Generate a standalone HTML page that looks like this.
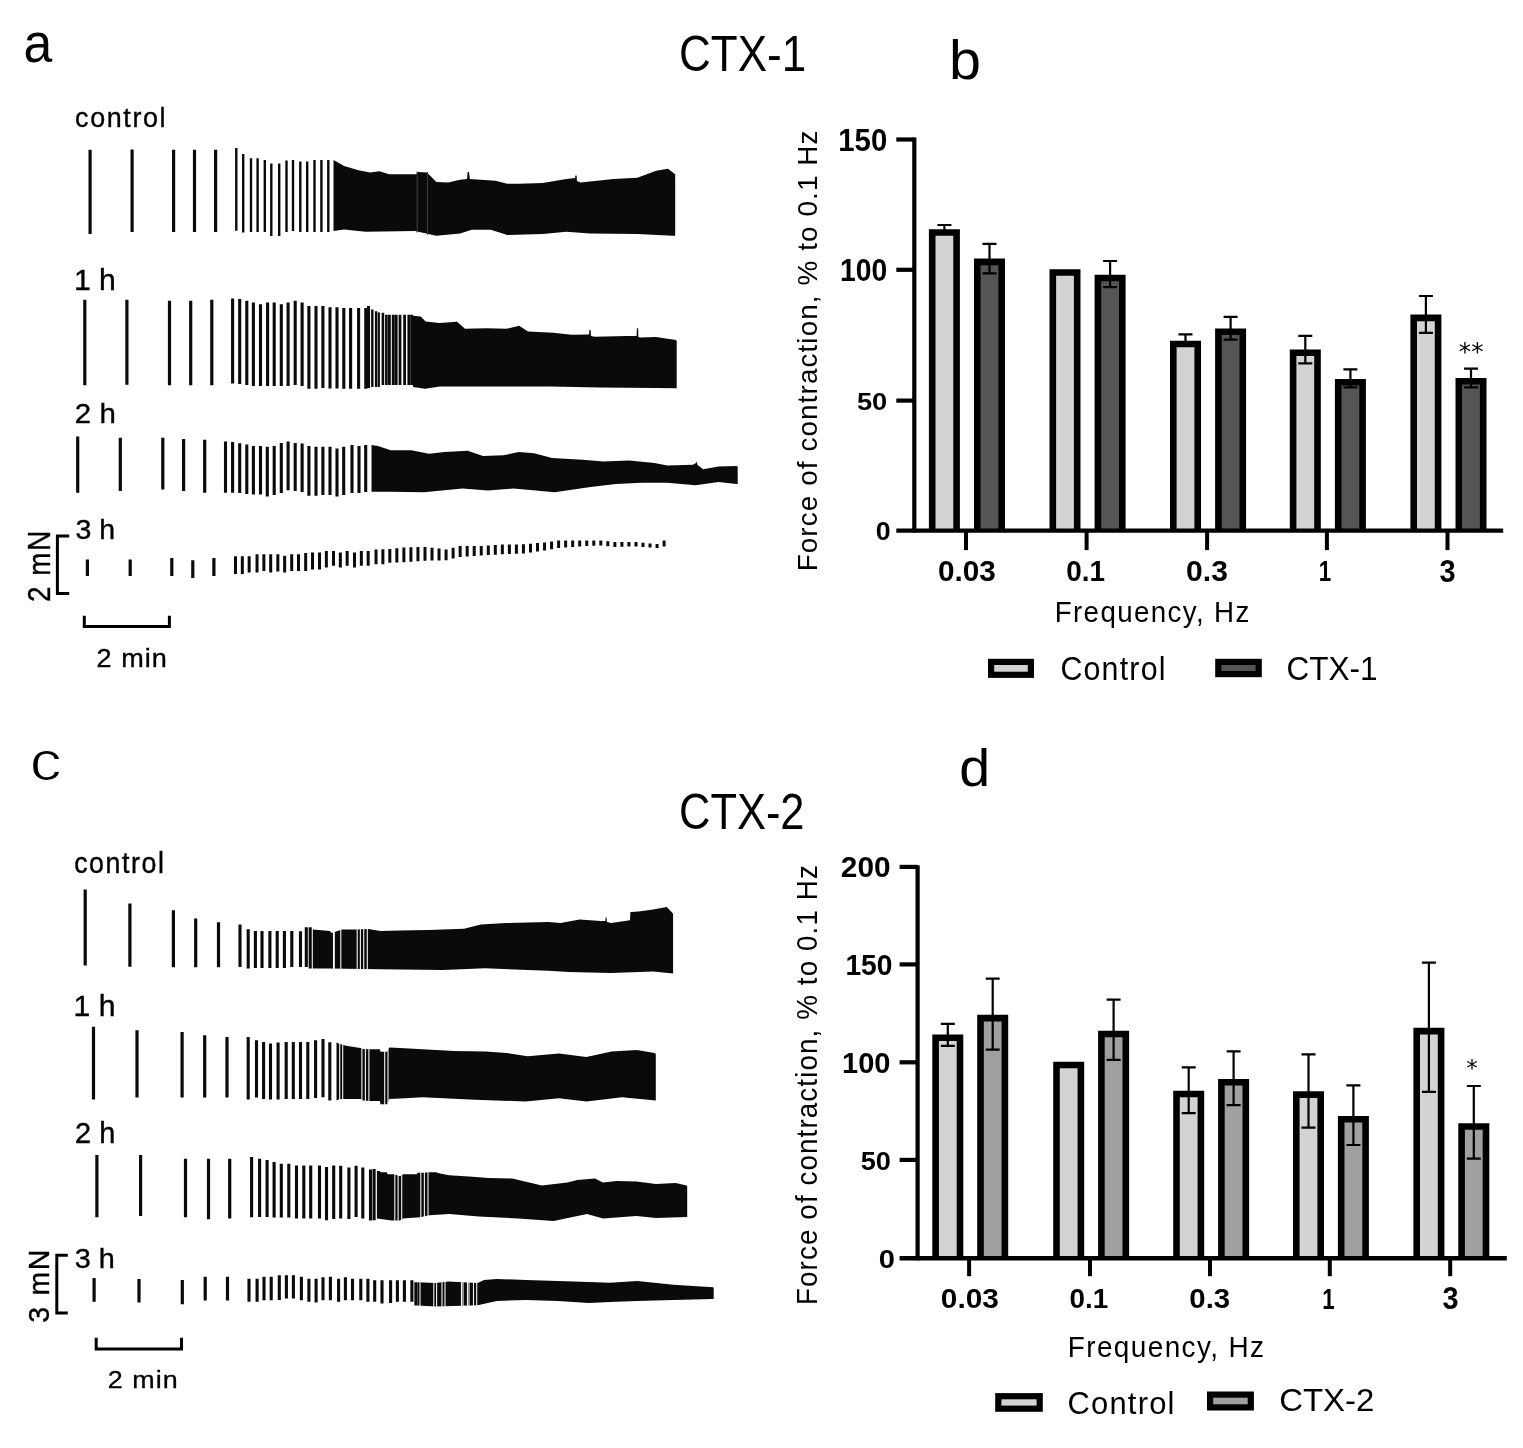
<!DOCTYPE html>
<html><head><meta charset="utf-8"><title>Figure</title>
<style>html,body{margin:0;padding:0;background:#fff;}svg{display:block;}</style></head>
<body><svg width="1523" height="1448" viewBox="0 0 1523 1448">
<rect width="1523" height="1448" fill="#fff"/>
<path d="M90.1 149.7V234M132.1 149.5V232M173.6 149.7V232M194.5 149.7V232M215.6 149.7V232" stroke="#0a0a0a" stroke-width="3.2" fill="none"/>
<path d="M236.3 148.1V230.8M243.2 154V232.4M251 158.2V232M257.6 158.2V232M264.8 160V232M271.3 163.5V236M279.2 163.5V236M286.5 160.5V232M293 160V231M300.3 161.5V232M307.2 161.5V232M314.5 160V232M321.4 160V232M328.3 160V232" stroke="#0a0a0a" stroke-width="2.4" fill="none"/>
<path d="M333.5 160 L344.2 166 L358.4 170.3 L370.2 172.6 L379.6 171.2 L389 174.3 L416.3 174.3 L417.5 172 L427 172.6 L436.4 182 L448.2 182.6 L460 179.7 L467 179 L467.6 172 L469 172 L469.8 179 L495.5 180.7 L507.3 183.7 L519 183.7 L542.8 183 L566.4 179 L575 178 L575.4 175.5 L576.6 175.5 L577 181 L580.6 182.6 L613.7 179 L637.3 177.8 L656.2 170.7 L668 168.8 L675.2 174.3 L675.2 235.7 L672.8 235.7 L637.3 234 L590 233.4 L566.4 231.7 L542.8 234 L507.3 235 L490.8 229.8 L471.8 229.8 L460 233.4 L436.4 235.7 L415 231 L365.5 231.7 L344.2 229.4 L333.5 231Z" fill="#0a0a0a"/>
<path d="M417.2 171.58V232.48M427.5 172.1V234.75" stroke="#3c3c3c" stroke-width="1.1" fill="none"/>
<path d="M84.8 299.7V385.3M126.9 299.7V384.8M169.5 300.7V385.3M190.7 300.7V385.3M211.8 299.7V385.3" stroke="#0a0a0a" stroke-width="3.2" fill="none"/>
<path d="M232.6 298.5V383.4M239.7 299V384M246.8 300.7V385M253.4 302.5V386M260.5 304.2V386M267.6 302.5V386M274.2 302.5V386M281.3 304.2V386M288.1 302.5V386M295.2 300.7V385M302.1 302.5V386M308.9 306V388.8M316 306V388.8M322.9 306V388M330 307.3V388.5M337 307.3V388.5M343.8 307.9V388.8M350.6 307.9V388.8M358.6 307.9V388.8M365.8 308V388.8M368.5 306V388" stroke="#0a0a0a" stroke-width="3.1" fill="none"/>
<path d="M372.3 309.4V386.9M376.1 311.3V386.9" stroke="#0a0a0a" stroke-width="2.4" fill="none"/>
<path d="M378.8 312.4V386.9" stroke="#0a0a0a" stroke-width="2.2" fill="none"/>
<path d="M382.9 312.8V385M386.4 314.7V385" stroke="#0a0a0a" stroke-width="2.6" fill="none"/>
<path d="M389.4 314.7V385M393.2 314.7V385M396.2 314.7V385M400 314.7V385M404.6 314.7V385M408.8 314.7V385M411.8 314.7V385" stroke="#0a0a0a" stroke-width="2.8" fill="none"/>
<path d="M413 315.8 L420.7 316.4 L425.6 321.4 L439.4 323 L457.1 321.8 L465 328.8 L486.7 328.3 L506.4 328.8 L519.2 325.7 L528 331.6 L553.6 332.8 L571.4 334.8 L589 334.5 L589.4 330 L590.6 330 L591 336 L595 336.7 L626.5 336.1 L636.6 336 L636.9 328.3 L638.1 328.3 L638.4 337 L640.3 337.5 L656 337 L675.8 340 L676.7 341 L676.7 388.3 L656 388 L600 387.5 L550 386.5 L500 386.5 L440 386.5 L425 388.8 L413 386.9Z" fill="#0a0a0a"/>
<path d="M77.7 436.6V492.7M120.3 437.8V491M162.8 437.8V489.4M183.6 439V491M204.7 439.7V492.7" stroke="#0a0a0a" stroke-width="3.2" fill="none"/>
<path d="M225.5 441.4V492.7M232.6 442V492.7M239.7 443.3V493M246.8 444.4V494M253.4 446.1V494.6M260.5 446.1V494.6M267.3 446.8V496.5M274.2 446.1V495M281.3 443V493M288.1 441.4V490.3M295.2 443V491M302.1 443.6V492M308.9 446.1V495.7M316 446.8V495.7M322.9 446.8V495M330 446.8V495M337 448.5V496.5M343.7 446.8V495M352 445V493M359 446.1V493M365.7 445V492" stroke="#0a0a0a" stroke-width="3.1" fill="none"/>
<path d="M371.5 445.1 L378 446 L390.7 450.2 L411.2 450.2 L429.1 453.8 L444.5 452 L467.6 450.7 L483 455.9 L503.4 455.3 L518.8 452 L534.1 453.3 L552 457.9 L582.8 459.7 L603.3 461.5 L628.9 460.5 L654.5 463 L667.3 465.6 L692.9 464.8 L696 463 L696.7 461.5 L697.5 465 L703.1 469.2 L718.5 466.6 L736.4 466.1 L737.7 466.5 L737.7 484 L736.4 484 L718.5 482 L695.5 485.3 L667.3 482.7 L641.7 482.7 L616 484 L590.5 487.1 L554.6 492.2 L513.6 488.6 L488 490.4 L462.4 488.6 L424 492.2 L390.7 491.7 L371.5 491.7Z" fill="#0a0a0a"/>
<path d="M369 444.1V492.7" stroke="#f4f4f4" stroke-width="1.1" fill="none"/>
<path d="M87.4 559.6V576.1M130.2 559.6V576.1M171.8 558V576.1M192.8 560.3V578M213.9 558V576.1" stroke="#0a0a0a" stroke-width="3.2" fill="none"/>
<path d="M235.5 556.3V574.1M242.33 556.3V574.1M249.16 556.3V572.6M257.04 554.2V572.6M263.87 554.2V571M270.69 554.2V572.6M277.84 554.2V571.5M284.66 555.8V572.6M291.7 554.2V571M298.53 554.2V571M305.67 553.1V571M312.5 552.6V569.4M319.54 552.6V569.4M326.37 551V567.5M333.51 551V565.7M340.34 552.6V567.5M347.16 551V565.7M354.52 552.6V567.5M361.34 551V565.7M368.17 551V565.7M376.05 549.5V564.2M382.88 549.2V564.2M389.82 548.92V562.74M396.85 548.26V562.52M403.89 547.57V562.32M410.92 547.31V561.8M417.95 547.11V561.25M424.99 546.9V560.7M432.02 547.76V560.57M439.05 548.62V560.44M446.08 549.47V560.3M453.12 547.71V558.61M460.15 546V556.96M467.18 546V556.5M474.21 546V556.04M481.25 545.98V555.58M488.28 545.45V555.12M495.31 544.92V554.66M502.35 544.4V554.2M509.38 544.4V553.99M516.41 544.4V553.78M523.44 544.33V553.5M530.48 543.7V552.52M537.51 543.07V551.54M544.54 542.44V550.56M551.58 541.48V549.35M558.61 540.5V548.12M565.64 540.4V547.53M572.67 540.4V547.01M579.71 540.4V546.49M586.74 540.4V546.12M593.77 540.4V545.74M600.8 540.49V545.49M607.84 541.28V546.23M614.87 542V546.89M621.9 542V546.75M628.94 542V546.61M635.97 542.12V546.59M643 542.75V547.06M650.03 543.38V547.53M657.07 543.97V547.99M664.1 540.4V546.5" stroke="#0a0a0a" stroke-width="3.0" fill="none"/>
<path d="M85.2 889.6V965.5M129.9 903.6V966.8M173.4 910.3V967.3M195.7 918.6V967.3M218.5 922.2V967.3" stroke="#0a0a0a" stroke-width="3.2" fill="none"/>
<path d="M240 924.4V967M248.2 929.3V968.4M255.4 931V968M262 931V968M269.9 931V968M277.2 931V968M284.4 931V968M291.8 931V967M300.5 931.3V967M306.3 927.3V967M310.2 927.3V968.5" stroke="#0a0a0a" stroke-width="3.1" fill="none"/>
<path d="M312.8 929.5 L330 931 L331.5 933 L342 929.5 L356 929.5 L368.4 929.1 L380.3 931 L400 930.4 L428.3 930 L464 928.7 L480.9 924.5 L506 923 L548.1 922 L560.7 923 L579.6 919.5 L600.6 921 L605.4 921 L605.6 917.5 L606.6 917.5 L607 922 L611.1 923 L630 920.3 L630.4 912 L631.5 912 L638.5 911.5 L653.2 909.4 L666.8 906.9 L672 912.6 L673.1 914 L673.1 973.5 L653 971.4 L611 972.9 L569 972 L548 970.8 L485 968.3 L443 970 L380 969.3 L330 968.5 L312.8 968.5Z" fill="#0a0a0a"/>
<path d="M333.5 931.33V969.56M334.3 931.07V969.57M340.8 928.9V969.67M357.2 928.46V969.94M360.4 928.36V969.99M363.7 928.25V970.04M367.3 928.14V970.1" stroke="#f4f4f4" stroke-width="1.1" fill="none"/>
<path d="M93.5 1026.8V1099.4M137 1030.2V1097.6M182.1 1032V1097.6M204.7 1035.3V1097.6M227 1036.9V1097.6" stroke="#0a0a0a" stroke-width="3.2" fill="none"/>
<path d="M248.2 1036.9V1099.4M256.5 1040.2V1097.6M263.6 1042V1099M270.5 1043.6V1099.4M278.1 1042.5V1099.4M286.2 1042V1099M293.3 1042V1099M300.5 1042V1099M307.8 1042V1099M315.6 1040.2V1098M323 1038.9V1097.3M329.8 1042.3V1100.6" stroke="#0a0a0a" stroke-width="3.1" fill="none"/>
<path d="M336.5 1042.5 L340 1044.1 L346 1045.8 L357 1047.4 L361 1048 L363 1049 L370 1049.2 L379.8 1049.2 L380.5 1051.7 L387 1051.7 L389.3 1047.6 L400 1047.9 L422.5 1049.3 L454 1051 L485.6 1051.4 L506.6 1053.1 L527.6 1056.3 L559 1053.5 L586.4 1056.9 L611.6 1051.4 L636.9 1050 L654.7 1053.1 L655.8 1054 L655.8 1100.4 L622 1097.2 L586.4 1101.4 L559 1098.3 L525.5 1101.4 L475 1099.8 L422.5 1097.2 L400 1098.6 L389.3 1099 L387 1104.2 L380.5 1104.2 L379.8 1100.9 L370 1100.9 L363 1100.6 L361 1099 L340 1099 L336.5 1100.6Z" fill="#0a0a0a"/>
<path d="M339.7 1042.96V1100.14M342.7 1043.87V1100M361.9 1047.45V1100.72M365.4 1048.07V1101.7M368.9 1048.17V1101.85M384.7 1050.7V1105.2M388 1048.92V1102.94" stroke="#f4f4f4" stroke-width="1.1" fill="none"/>
<path d="M96.9 1154.9V1217.3M140.6 1154.9V1216M185.5 1158.7V1217.3M208.5 1158.7V1219.3M229.7 1158.7V1218.5" stroke="#0a0a0a" stroke-width="3.2" fill="none"/>
<path d="M251.6 1156.9V1217.3M259.6 1158.7V1217M267.1 1159.9V1217M274.1 1161.9V1217.5M281.3 1163.7V1217.5M288.8 1163.7V1217.5M296.5 1165.4V1218.5M303.8 1165.4V1218.5M310.7 1165.4V1218.5M319.5 1165.4V1218.5M326.5 1166.9V1220.3M333.7 1165.4V1219M340.7 1165.8V1218.6M348.9 1167.4V1219M356.1 1165.8V1217M362.8 1167.4V1218.6M370.5 1169.4V1220.6M374.1 1169V1220.3" stroke="#0a0a0a" stroke-width="3.1" fill="none"/>
<path d="M376.9 1171 L380 1171 L380.5 1172.3 L387 1172.3 L387.5 1174.3 L394 1174.3 L400 1176.3 L403 1174.3 L417 1174.3 L417.5 1172.7 L423.4 1172.7 L429.3 1172.3 L435.9 1172.3 L440 1173.5 L449.2 1175.2 L469 1176.6 L488.6 1178 L512.3 1178.6 L541.8 1185.5 L567.4 1182.5 L577.3 1180 L595 1178.6 L602.9 1182.5 L616.7 1181.1 L636.4 1181.5 L656 1183.9 L675.8 1183.1 L686.6 1185.5 L687.2 1186 L687.2 1217 L656 1218 L636.4 1216 L603 1218.5 L587 1214 L553.6 1221 L518.2 1218.5 L478.8 1216.6 L449.2 1214 L429.5 1215.3 L420 1217.3 L403 1218.6 L400 1220.6 L392 1220.6 L376.9 1218.6Z" fill="#0a0a0a"/>
<path d="M394.8 1173.57V1221.6M398.1 1174.67V1221.6M401.7 1174.17V1220.47M420.8 1171.7V1218.13M424.4 1171.63V1217.37M428 1171.39V1216.62" stroke="#f4f4f4" stroke-width="1.1" fill="none"/>
<path d="M94.1 1278.1V1301.7M139 1278.9V1302.5M182.3 1279.9V1304.3M205.2 1276.8V1300.4M227.5 1276.8V1300.4" stroke="#0a0a0a" stroke-width="3.2" fill="none"/>
<path d="M249 1278.7V1301.8M257.1 1278.7V1301.8M264 1276.8V1300.2M271.2 1276.8V1300.2M279.3 1275.2V1300M286.4 1275.2V1298.4M293.4 1275.2V1298.4M301.4 1276.8V1300.2M308.9 1278.7V1301.8M316.1 1278.7V1302.4M323 1277.2V1300.2M330.4 1276.8V1300.2M338.6 1278.7V1301.8M345.4 1277.2V1300.2M352.5 1278.7V1300.2M360.8 1278.7V1300.2M367.9 1278.7V1301.8M374.7 1280.2V1301.8M382 1280.2V1303.4M390.6 1280.2V1303M397.4 1280.2V1301.8M404.4 1280.2V1301.8M411.9 1280.2V1301.8M415.9 1282.2V1305.5" stroke="#0a0a0a" stroke-width="3.1" fill="none"/>
<path d="M417.5 1282.2 L435.7 1283.1 L448.3 1281.4 L477.7 1283.1 L484 1280 L496.7 1278.9 L526 1280 L557.6 1281 L589 1282 L610 1282.7 L637.4 1281 L673.2 1284.8 L713.1 1287.3 L713.7 1288 L713.7 1298.9 L713.1 1298.9 L673.2 1300 L637.4 1301 L610 1302 L589 1303 L557.6 1301 L526 1300 L496.7 1301 L477.7 1305.2 L435.7 1306.6 L417.5 1305.5Z" fill="#0a0a0a"/>
<path d="M420 1281.32V1306.65M433.8 1282.01V1307.49M436.6 1281.98V1307.57M442 1281.25V1307.39M445 1280.85V1307.29M461.5 1281.16V1306.74M463 1281.25V1306.69M467.5 1281.51V1306.54M469 1281.6V1306.49M473.5 1281.86V1306.34M476.7 1282.04V1306.23" stroke="#f4f4f4" stroke-width="1.1" fill="none"/>
<path d="M69.2 536H57.4V593.4H69.2" stroke="#000" stroke-width="3" fill="none"/>
<path d="M84.3 615.8V626.5H169.4V615.8" stroke="#000" stroke-width="3" fill="none"/>
<path d="M67.8 1255.2H56.8V1313H67.8" stroke="#000" stroke-width="3" fill="none"/>
<path d="M96.2 1337.7V1349H181.5V1337.7" stroke="#000" stroke-width="3" fill="none"/>
<rect x="932.2" y="232.5" width="24.4" height="298.1" fill="#d3d3d3"/>
<path d="M932.2 530.6V232.5H956.6V530.6" fill="none" stroke="#000" stroke-width="6.6"/>
<path d="M944.4 225V233M937.4 225H951.4M937.4 233H951.4" stroke="#000" stroke-width="2.2" fill="none"/>
<rect x="977.3" y="261.9" width="24.4" height="268.7" fill="#555555"/>
<path d="M977.3 530.6V261.9H1001.7V530.6" fill="none" stroke="#000" stroke-width="6.6"/>
<path d="M989.5 243.9V273.4M982.5 243.9H996.5M982.5 273.4H996.5" stroke="#000" stroke-width="2.2" fill="none"/>
<rect x="1052.8" y="272.5" width="24.4" height="258.1" fill="#d3d3d3"/>
<path d="M1052.8 530.6V272.5H1077.2V530.6" fill="none" stroke="#000" stroke-width="6.6"/>
<rect x="1097.9" y="278" width="24.4" height="252.6" fill="#555555"/>
<path d="M1097.9 530.6V278H1122.3V530.6" fill="none" stroke="#000" stroke-width="6.6"/>
<path d="M1110.1 261V287.2M1103.1 261H1117.1M1103.1 287.2H1117.1" stroke="#000" stroke-width="2.2" fill="none"/>
<rect x="1173.3" y="344" width="24.4" height="186.6" fill="#d3d3d3"/>
<path d="M1173.3 530.6V344H1197.7V530.6" fill="none" stroke="#000" stroke-width="6.6"/>
<path d="M1185.5 334.4V346M1178.5 334.4H1192.5M1178.5 346H1192.5" stroke="#000" stroke-width="2.2" fill="none"/>
<rect x="1218.4" y="331.8" width="24.4" height="198.8" fill="#555555"/>
<path d="M1218.4 530.6V331.8H1242.8V530.6" fill="none" stroke="#000" stroke-width="6.6"/>
<path d="M1230.6 316.9V339.6M1223.6 316.9H1237.6M1223.6 339.6H1237.6" stroke="#000" stroke-width="2.2" fill="none"/>
<rect x="1293.1" y="352.8" width="24.4" height="177.8" fill="#d3d3d3"/>
<path d="M1293.1 530.6V352.8H1317.5V530.6" fill="none" stroke="#000" stroke-width="6.6"/>
<path d="M1305.3 335.8V363.4M1298.3 335.8H1312.3M1298.3 363.4H1312.3" stroke="#000" stroke-width="2.2" fill="none"/>
<rect x="1338.2" y="382.2" width="24.4" height="148.4" fill="#555555"/>
<path d="M1338.2 530.6V382.2H1362.6V530.6" fill="none" stroke="#000" stroke-width="6.6"/>
<path d="M1350.4 369.3V387.3M1343.4 369.3H1357.4M1343.4 387.3H1357.4" stroke="#000" stroke-width="2.2" fill="none"/>
<rect x="1413.7" y="317.9" width="24.4" height="212.7" fill="#d3d3d3"/>
<path d="M1413.7 530.6V317.9H1438.1V530.6" fill="none" stroke="#000" stroke-width="6.6"/>
<path d="M1425.9 296V332.9M1418.9 296H1432.9M1418.9 332.9H1432.9" stroke="#000" stroke-width="2.2" fill="none"/>
<rect x="1458.8" y="381.3" width="24.4" height="149.3" fill="#555555"/>
<path d="M1458.8 530.6V381.3H1483.2V530.6" fill="none" stroke="#000" stroke-width="6.6"/>
<path d="M1471 368.7V387.3M1464 368.7H1478M1464 387.3H1478" stroke="#000" stroke-width="2.2" fill="none"/>
<path d="M914.3 137.6V532.6" stroke="#000" stroke-width="4.2" fill="none"/>
<path d="M896.3 139.5H914.3" stroke="#000" stroke-width="4.2" fill="none"/>
<path d="M896.3 269.8H914.3" stroke="#000" stroke-width="4.2" fill="none"/>
<path d="M896.3 400.6H914.3" stroke="#000" stroke-width="4.2" fill="none"/>
<path d="M896.3 530.6H1503.2" stroke="#000" stroke-width="4.4" fill="none"/>
<path d="M966 530.6V550.1" stroke="#000" stroke-width="4" fill="none"/>
<path d="M1086.6 530.6V550.1" stroke="#000" stroke-width="4" fill="none"/>
<path d="M1207.1 530.6V550.1" stroke="#000" stroke-width="4" fill="none"/>
<path d="M1326.9 530.6V550.1" stroke="#000" stroke-width="4" fill="none"/>
<path d="M1447.5 530.6V550.1" stroke="#000" stroke-width="4" fill="none"/>
<rect x="935.6" y="1037.7" width="24.4" height="220.5" fill="#d3d3d3"/>
<path d="M935.6 1258.2V1037.7H960V1258.2" fill="none" stroke="#000" stroke-width="6.6"/>
<path d="M947.8 1023.9V1045.9M940.8 1023.9H954.8M940.8 1045.9H954.8" stroke="#000" stroke-width="2.2" fill="none"/>
<rect x="980.5" y="1018.1" width="24.4" height="240.1" fill="#a0a0a0"/>
<path d="M980.5 1258.2V1018.1H1004.9V1258.2" fill="none" stroke="#000" stroke-width="6.6"/>
<path d="M992.7 978.7V1049.7M985.7 978.7H999.7M985.7 1049.7H999.7" stroke="#000" stroke-width="2.2" fill="none"/>
<rect x="1056.5" y="1065" width="24.4" height="193.2" fill="#d3d3d3"/>
<path d="M1056.5 1258.2V1065H1080.9V1258.2" fill="none" stroke="#000" stroke-width="6.6"/>
<rect x="1101.4" y="1034" width="24.4" height="224.2" fill="#a0a0a0"/>
<path d="M1101.4 1258.2V1034H1125.8V1258.2" fill="none" stroke="#000" stroke-width="6.6"/>
<path d="M1113.6 999.6V1059.8M1106.6 999.6H1120.6M1106.6 1059.8H1120.6" stroke="#000" stroke-width="2.2" fill="none"/>
<rect x="1176.5" y="1094" width="24.4" height="164.2" fill="#d3d3d3"/>
<path d="M1176.5 1258.2V1094H1200.9V1258.2" fill="none" stroke="#000" stroke-width="6.6"/>
<path d="M1188.7 1067.4V1113.1M1181.7 1067.4H1195.7M1181.7 1113.1H1195.7" stroke="#000" stroke-width="2.2" fill="none"/>
<rect x="1221.4" y="1082.3" width="24.4" height="175.9" fill="#a0a0a0"/>
<path d="M1221.4 1258.2V1082.3H1245.8V1258.2" fill="none" stroke="#000" stroke-width="6.6"/>
<path d="M1233.6 1051.4V1105.2M1226.6 1051.4H1240.6M1226.6 1105.2H1240.6" stroke="#000" stroke-width="2.2" fill="none"/>
<rect x="1296.3" y="1094.6" width="24.4" height="163.6" fill="#d3d3d3"/>
<path d="M1296.3 1258.2V1094.6H1320.7V1258.2" fill="none" stroke="#000" stroke-width="6.6"/>
<path d="M1308.5 1054.3V1127.6M1301.5 1054.3H1315.5M1301.5 1127.6H1315.5" stroke="#000" stroke-width="2.2" fill="none"/>
<rect x="1341.2" y="1119.3" width="24.4" height="138.9" fill="#a0a0a0"/>
<path d="M1341.2 1258.2V1119.3H1365.6V1258.2" fill="none" stroke="#000" stroke-width="6.6"/>
<path d="M1353.4 1085.4V1145M1346.4 1085.4H1360.4M1346.4 1145H1360.4" stroke="#000" stroke-width="2.2" fill="none"/>
<rect x="1416.7" y="1031.1" width="24.4" height="227.1" fill="#d3d3d3"/>
<path d="M1416.7 1258.2V1031.1H1441.1V1258.2" fill="none" stroke="#000" stroke-width="6.6"/>
<path d="M1428.9 962.7V1091.8M1421.9 962.7H1435.9M1421.9 1091.8H1435.9" stroke="#000" stroke-width="2.2" fill="none"/>
<rect x="1461.6" y="1126.5" width="24.4" height="131.7" fill="#a0a0a0"/>
<path d="M1461.6 1258.2V1126.5H1486V1258.2" fill="none" stroke="#000" stroke-width="6.6"/>
<path d="M1473.8 1086V1158.7M1466.8 1086H1480.8M1466.8 1158.7H1480.8" stroke="#000" stroke-width="2.2" fill="none"/>
<path d="M917.6 865.2V1260.2" stroke="#000" stroke-width="4.2" fill="none"/>
<path d="M899.6 866.9H917.6" stroke="#000" stroke-width="4.2" fill="none"/>
<path d="M899.6 964.4H917.6" stroke="#000" stroke-width="4.2" fill="none"/>
<path d="M899.6 1062.3H917.6" stroke="#000" stroke-width="4.2" fill="none"/>
<path d="M899.6 1159.9H917.6" stroke="#000" stroke-width="4.2" fill="none"/>
<path d="M899.6 1258.2H1506.8" stroke="#000" stroke-width="4.4" fill="none"/>
<path d="M969.1 1258.2V1276.2" stroke="#000" stroke-width="4" fill="none"/>
<path d="M1090 1258.2V1276.2" stroke="#000" stroke-width="4" fill="none"/>
<path d="M1210 1258.2V1276.2" stroke="#000" stroke-width="4" fill="none"/>
<path d="M1329.8 1258.2V1276.2" stroke="#000" stroke-width="4" fill="none"/>
<path d="M1450.2 1258.2V1276.2" stroke="#000" stroke-width="4" fill="none"/>
<rect x="991.1" y="661.9" width="39.8" height="12.9" fill="#d3d3d3" stroke="#000" stroke-width="6.2"/>
<rect x="1218.3" y="661.9" width="40.4" height="12.2" fill="#555555" stroke="#000" stroke-width="6.2"/>
<rect x="998.3" y="1396.2" width="41.4" height="12.5" fill="#d3d3d3" stroke="#000" stroke-width="6.2"/>
<rect x="1210.1" y="1394.6" width="40.7" height="12.8" fill="#a0a0a0" stroke="#000" stroke-width="6.2"/>
<text transform="translate(23.53 62.24) scale(0.5173 0.5564)" font-family="Liberation Sans, Arial, sans-serif" font-weight="400" font-size="100">a</text>
<text transform="translate(679 70.9) scale(0.4401 0.4972)" font-family="Liberation Sans, Arial, sans-serif" font-weight="400" font-size="100">CTX-1</text>
<text transform="translate(948.88 78.5) scale(0.5750 0.5507)" font-family="Liberation Sans, Arial, sans-serif" font-weight="400" font-size="100">b</text>
<text transform="translate(75.12 126.54) scale(0.2690 0.2776)" font-family="Liberation Sans, Arial, sans-serif" font-weight="400" font-size="100" stroke="#000" stroke-width="1.3" letter-spacing="6">control</text>
<text transform="translate(73.89 290.01) scale(0.3016 0.2933)" font-family="Liberation Sans, Arial, sans-serif" font-weight="400" font-size="100" stroke="#000" stroke-width="1.3">1 h</text>
<text transform="translate(74.82 423.32) scale(0.2946 0.2827)" font-family="Liberation Sans, Arial, sans-serif" font-weight="400" font-size="100" stroke="#000" stroke-width="1.3">2 h</text>
<text transform="translate(75.44 539.14) scale(0.2854 0.2803)" font-family="Liberation Sans, Arial, sans-serif" font-weight="400" font-size="100" stroke="#000" stroke-width="1.3">3 h</text>
<text transform="translate(50.39 602.11) rotate(-90) scale(0.2776 0.3111)" font-family="Liberation Sans, Arial, sans-serif" font-weight="400" font-size="100" stroke="#000" stroke-width="1.3" letter-spacing="6">2 mN</text>
<text transform="translate(96.42 667.15) scale(0.2705 0.2520)" font-family="Liberation Sans, Arial, sans-serif" font-weight="400" font-size="100" stroke="#000" stroke-width="1.3" letter-spacing="4">2 min</text>
<text transform="translate(29.8 780.2) scale(0.6390 0.5604)" font-family="Liberation Sans, Arial, sans-serif" font-weight="400" font-size="100" stroke="#fff" stroke-width="2.0">c</text>
<text transform="translate(679.03 828.8) scale(0.4344 0.5028)" font-family="Liberation Sans, Arial, sans-serif" font-weight="400" font-size="100">CTX-2</text>
<text transform="translate(959.18 786.39) scale(0.5556 0.5135)" font-family="Liberation Sans, Arial, sans-serif" font-weight="400" font-size="100">d</text>
<text transform="translate(74.13 873.4) scale(0.2672 0.3000)" font-family="Liberation Sans, Arial, sans-serif" font-weight="400" font-size="100" stroke="#000" stroke-width="1.3" letter-spacing="6">control</text>
<text transform="translate(73.49 1016.01) scale(0.3016 0.2907)" font-family="Liberation Sans, Arial, sans-serif" font-weight="400" font-size="100" stroke="#000" stroke-width="1.3">1 h</text>
<text transform="translate(75.04 1142.7) scale(0.2899 0.3000)" font-family="Liberation Sans, Arial, sans-serif" font-weight="400" font-size="100" stroke="#000" stroke-width="1.3">2 h</text>
<text transform="translate(74.83 1267.86) scale(0.2885 0.2697)" font-family="Liberation Sans, Arial, sans-serif" font-weight="400" font-size="100" stroke="#000" stroke-width="1.3">3 h</text>
<text transform="translate(48.81 1322.75) rotate(-90) scale(0.2850 0.2945)" font-family="Liberation Sans, Arial, sans-serif" font-weight="400" font-size="100" stroke="#000" stroke-width="1.3" letter-spacing="6">3 mN</text>
<text transform="translate(107.72 1388.15) scale(0.2689 0.2453)" font-family="Liberation Sans, Arial, sans-serif" font-weight="400" font-size="100" stroke="#000" stroke-width="1.3" letter-spacing="4">2 min</text>
<text transform="translate(838.24 150.79) scale(0.2936 0.3099)" font-family="Liberation Sans, Arial, sans-serif" font-weight="700" font-size="100">150</text>
<text transform="translate(840 281.28) scale(0.2828 0.3155)" font-family="Liberation Sans, Arial, sans-serif" font-weight="700" font-size="100">100</text>
<text transform="translate(856.88 410.25) scale(0.2731 0.2465)" font-family="Liberation Sans, Arial, sans-serif" font-weight="700" font-size="100">50</text>
<text transform="translate(875.63 540.45) scale(0.2681 0.2507)" font-family="Liberation Sans, Arial, sans-serif" font-weight="700" font-size="100">0</text>
<text transform="translate(938.01 580.91) scale(0.2973 0.2915)" font-family="Liberation Sans, Arial, sans-serif" font-weight="700" font-size="100">0.03</text>
<text transform="translate(1066.28 580.91) scale(0.2788 0.2915)" font-family="Liberation Sans, Arial, sans-serif" font-weight="700" font-size="100">0.1</text>
<text transform="translate(1186.1 580.91) scale(0.3008 0.2915)" font-family="Liberation Sans, Arial, sans-serif" font-weight="700" font-size="100">0.3</text>
<text transform="translate(1318.86 581.2) scale(0.2234 0.3000)" font-family="Liberation Sans, Arial, sans-serif" font-weight="700" font-size="100">1</text>
<text transform="translate(1439.52 581.68) scale(0.2900 0.3183)" font-family="Liberation Sans, Arial, sans-serif" font-weight="700" font-size="100">3</text>
<text transform="translate(1054.68 621.86) scale(0.2770 0.2922)" font-family="Liberation Sans, Arial, sans-serif" font-weight="400" font-size="100" letter-spacing="5">Frequency, Hz</text>
<text transform="translate(816.97 571.33) rotate(-90) scale(0.2784 0.2791)" font-family="Liberation Sans, Arial, sans-serif" font-weight="400" font-size="100" letter-spacing="4">Force of contraction, % to 0.1 Hz</text>
<text transform="translate(1060.38 680.18) scale(0.3036 0.3243)" font-family="Liberation Sans, Arial, sans-serif" font-weight="400" font-size="100" letter-spacing="4">Control</text>
<text transform="translate(1286.42 680.18) scale(0.3154 0.3239)" font-family="Liberation Sans, Arial, sans-serif" font-weight="400" font-size="100">CTX-1</text>
<text transform="translate(1458.86 360.26) scale(0.2468 0.2400)" font-family="DejaVu Sans, Arial, sans-serif" font-weight="400" font-size="100">**</text>
<text transform="translate(840.81 876.61) scale(0.2981 0.2859)" font-family="Liberation Sans, Arial, sans-serif" font-weight="700" font-size="100">200</text>
<text transform="translate(845.41 974.8) scale(0.2822 0.2958)" font-family="Liberation Sans, Arial, sans-serif" font-weight="700" font-size="100">150</text>
<text transform="translate(842.06 1072.6) scale(0.2904 0.2958)" font-family="Liberation Sans, Arial, sans-serif" font-weight="700" font-size="100">100</text>
<text transform="translate(860.69 1170.15) scale(0.2712 0.2521)" font-family="Liberation Sans, Arial, sans-serif" font-weight="700" font-size="100">50</text>
<text transform="translate(878.63 1267.85) scale(0.2915 0.2521)" font-family="Liberation Sans, Arial, sans-serif" font-weight="700" font-size="100">0</text>
<text transform="translate(940.81 1308.42) scale(0.2984 0.2845)" font-family="Liberation Sans, Arial, sans-serif" font-weight="700" font-size="100">0.03</text>
<text transform="translate(1069.58 1308.42) scale(0.2788 0.2845)" font-family="Liberation Sans, Arial, sans-serif" font-weight="700" font-size="100">0.1</text>
<text transform="translate(1189.32 1308.42) scale(0.2939 0.2845)" font-family="Liberation Sans, Arial, sans-serif" font-weight="700" font-size="100">0.3</text>
<text transform="translate(1322.16 1308.7) scale(0.2234 0.2928)" font-family="Liberation Sans, Arial, sans-serif" font-weight="700" font-size="100">1</text>
<text transform="translate(1442.52 1308.69) scale(0.2880 0.3099)" font-family="Liberation Sans, Arial, sans-serif" font-weight="700" font-size="100">3</text>
<text transform="translate(1067.76 1357.46) scale(0.2794 0.2922)" font-family="Liberation Sans, Arial, sans-serif" font-weight="400" font-size="100" letter-spacing="5">Frequency, Hz</text>
<text transform="translate(816.84 1305.02) rotate(-90) scale(0.2777 0.2895)" font-family="Liberation Sans, Arial, sans-serif" font-weight="400" font-size="100" letter-spacing="4">Force of contraction, % to 0.1 Hz</text>
<text transform="translate(1067.46 1414.19) scale(0.3090 0.3108)" font-family="Liberation Sans, Arial, sans-serif" font-weight="400" font-size="100" letter-spacing="4">Control</text>
<text transform="translate(1279.15 1411.49) scale(0.3294 0.3099)" font-family="Liberation Sans, Arial, sans-serif" font-weight="400" font-size="100">CTX-2</text>
<text transform="translate(1466.21 1075.91) scale(0.2295 0.2244)" font-family="DejaVu Sans, Arial, sans-serif" font-weight="400" font-size="100">*</text>
</svg></body></html>
